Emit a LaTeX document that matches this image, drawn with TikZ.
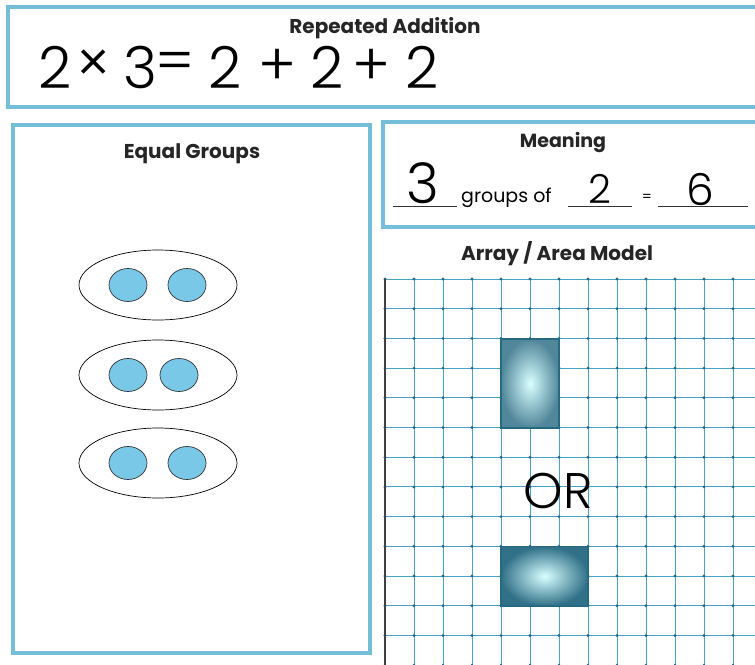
\documentclass[tikz,border=0pt]{standalone}
\usepackage{fontspec}
\setmainfont{Poppins}
\newfontfamily\hand{Poppins Light}
\usepackage{xcolor}
\usetikzlibrary{positioning,shapes.geometric}
\definecolor{frameblue}{RGB}{116,190,218}
\definecolor{counterblue}{RGB}{121,200,232}
\definecolor{gridblue}{RGB}{70,165,198}
\definecolor{tealdark}{RGB}{38,105,130}

\begin{document}
\begin{tikzpicture}[x=1pt,y=-1pt]
  \tikzstyle{panel}=[draw=frameblue,line width=3.5pt]
  \tikzstyle{heading}=[font=\bfseries\fontsize{20}{23}\selectfont,text=black!85]
  \tikzstyle{hand}=[font=\hand\fontsize{58}{60}\selectfont,inner sep=0pt]
  \tikzstyle{group}=[draw,ellipse,minimum width=158pt,minimum height=70pt,line width=0.7pt]
  \tikzstyle{counter}=[draw=black!80,ellipse,fill=counterblue,minimum width=38pt,minimum height=33pt,line width=0.7pt]
  \tikzstyle{tile}=[draw=tealdark,line width=1.2pt,inner sep=0pt,shading=radial,inner color=white!85!cyan,outer color=tealdark!80]
  \useasboundingbox (0,0) rectangle (755,664);
  \clip (0,0) rectangle (755,664);
  \fill[white] (0,0) rectangle (755,664);

  % frames
  \draw[panel] (8,7) rectangle (780,107);
  \draw[panel] (13,125) rectangle (370,653);
  \draw[panel] (383,122) rectangle (780,227);

  % repeated addition
  \node[heading] (add) at (385,28) {Repeated Addition};
  \foreach \c/\x [count=\i] in {2/55,×/94,3/140,=/175,2/225,+/277,2/327,+/371,2/422}
    \node[hand] (eq\i) at (\x,67) {\c};

  % equal groups
  \node[heading] (eqg) at (192,154) {Equal Groups};
  \foreach \y/\b [count=\i] in {285/187,375/179,463/187} {
    \node[group] (grp\i) at (158,\y) {};
    \node[counter] (ca\i) at (128,\y) {};
    \node[counter] (cb\i) at (\b,\y) {};
  }

  % meaning
  \node[heading,font=\bfseries\fontsize{19}{22}\selectfont] (mean) at (563,143) {Meaning};
  \draw[black!80] (393,206) -- (457,206) (568,206) -- (632,206) (658,206) -- (748,206);
  \node[font=\fontsize{19}{22}\selectfont,anchor=base west,inner sep=0pt] (grpof) at (461,202) {groups of};
  \node[font=\fontsize{14}{16}\selectfont,inner sep=0pt] (mequal) at (647,198) {=};
  \node[hand,font=\hand\fontsize{56}{60}\selectfont] (nthree) at (423,183) {3};
  \node[hand,font=\hand\fontsize{40}{42}\selectfont] (ntwo) at (600,189) {2};
  \node[hand,font=\hand\fontsize{44}{46}\selectfont] (nsix) at (700,189) {6};

  % array / area model
  \node[heading] (area) at (557,254) {Array / Area Model};
  \foreach \i in {0,...,13}
    \draw[gridblue,line width=1pt] (385+29*\i,279) -- (385+29*\i,670);
  \foreach \j in {0,...,13}
    \draw[gridblue,line width=1pt] (385,279+29.7*\j) -- (760,279+29.7*\j);
  \foreach \i in {0,...,13}
    \foreach \j in {0,...,13}
      \fill[tealdark] (385+29*\i,279+29.7*\j) circle (1.6pt);
  \draw[black!75,line width=1.3pt] (385,279) -- (385,670);
  \node[tile,minimum width=58pt,minimum height=89pt] (tall) at (530,383.5) {};
  \node[tile,minimum width=87pt,minimum height=59.4pt,outer color=tealdark!95] (wide) at (544.5,576.3) {};
  \node[hand,font=\hand\fontsize{50}{54}\selectfont] (ortext) at (558,491) {OR};
\end{tikzpicture}
\end{document}
